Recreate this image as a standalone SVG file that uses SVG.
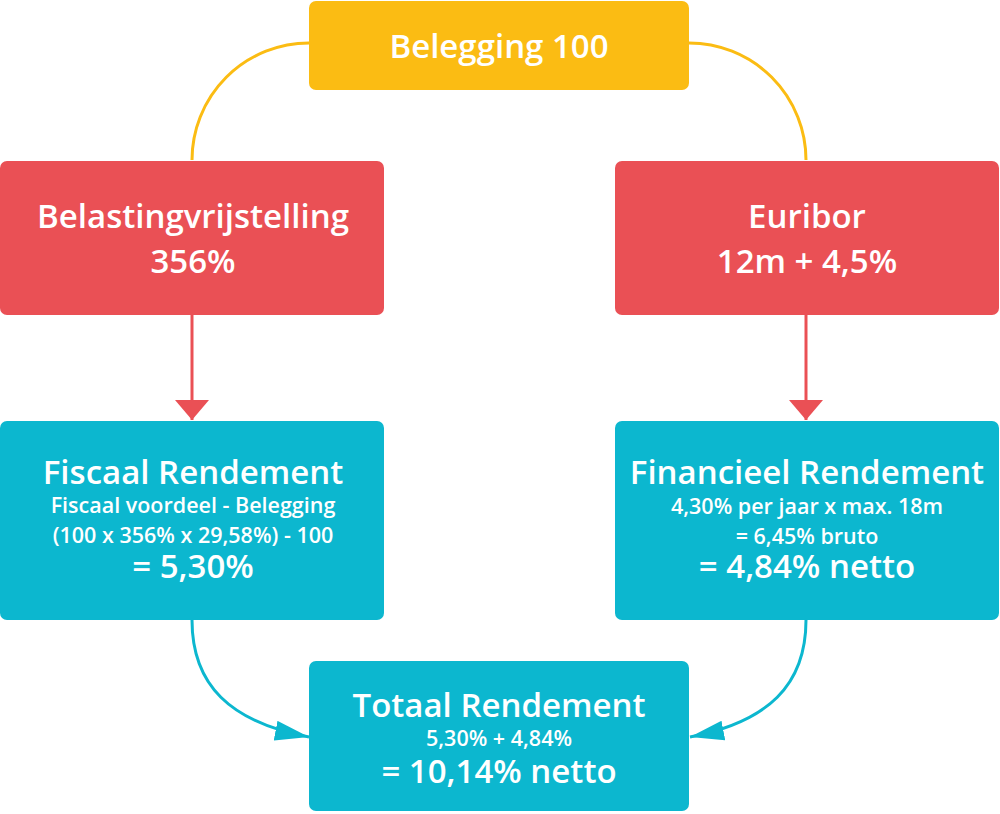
<svg xmlns="http://www.w3.org/2000/svg" width="1000" height="814" viewBox="0 0 1000 814">
<defs>
<style>
text{font-family:"Open Sans","Noto Sans","Liberation Sans",sans-serif;fill:#fff;text-anchor:middle;font-weight:600}
.h{font-size:33px}
.s{font-size:21.5px}
.yl{fill:none;stroke:#FBBC13;stroke-width:3}
.rl{fill:none;stroke:#EA5055;stroke-width:3}
.cl{fill:none;stroke:#0CB7CF;stroke-width:3}
</style>
<marker id="ar" viewBox="0 0 20 34" refX="20" refY="17" markerWidth="20" markerHeight="34" markerUnits="userSpaceOnUse" orient="auto"><path d="M0,0 L20,17 L0,34 Z" fill="#EA5055"/></marker>
<marker id="ac" viewBox="0 0 34 20" refX="34" refY="10" markerWidth="34" markerHeight="20" markerUnits="userSpaceOnUse" orient="auto"><path d="M0,0 L34,10 L0,20 Z" fill="#0CB7CF"/></marker>
</defs>
<g id="connectors">
<path class="yl" d="M309,43 A117,117 0 0 0 192,160"/>
<path class="yl" d="M689,43 A117,117 0 0 1 806,160"/>
<path class="rl" d="M192,315 L192,420" marker-end="url(#ar)"/>
<path class="rl" d="M806,315 L806,420" marker-end="url(#ar)"/>
<path class="cl" d="M192,620 C192,685 230,722 309,737" marker-end="url(#ac)"/>
<path class="cl" d="M806,620 C806,685 768,722 690,737" marker-end="url(#ac)"/>
</g>
<g id="belegging">
<rect x="309" y="1" width="380" height="89" rx="7" fill="#FBBC13"/>
<text class="h" x="499" y="58">Belegging 100</text>
</g>
<g id="belastingvrijstelling">
<rect x="0" y="161" width="384" height="154" rx="7" fill="#EA5055"/>
<text class="h" x="193" y="228">Belastingvrijstelling</text>
<text class="h" x="193" y="273">356%</text>
</g>
<g id="euribor">
<rect x="615" y="161" width="384" height="154" rx="7" fill="#EA5055"/>
<text class="h" x="807" y="228">Euribor</text>
<text class="h" x="807" y="273">12m + 4,5%</text>
</g>
<g id="fiscaal">
<rect x="0" y="421" width="384" height="199" rx="7" fill="#0CB7CF"/>
<text class="h" x="193" y="484">Fiscaal Rendement</text>
<text class="s" x="193" y="513">Fiscaal voordeel - Belegging</text>
<text class="s" x="193" y="543">(100 x 356% x 29,58%) - 100</text>
<text class="h" x="193" y="578">= 5,30%</text>
</g>
<g id="financieel">
<rect x="615" y="421" width="384" height="199" rx="7" fill="#0CB7CF"/>
<text class="h" x="807" y="484">Financieel Rendement</text>
<text class="s" x="807" y="514">4,30% per jaar x max. 18m</text>
<text class="s" x="807" y="544">= 6,45% bruto</text>
<text class="h" x="807" y="578">= 4,84% netto</text>
</g>
<g id="totaal">
<rect x="309" y="661" width="380" height="150" rx="7" fill="#0CB7CF"/>
<text class="h" x="499" y="717">Totaal Rendement</text>
<text class="s" x="499" y="746">5,30% + 4,84%</text>
<text class="h" x="499" y="783">= 10,14% netto</text>
</g>
</svg>
